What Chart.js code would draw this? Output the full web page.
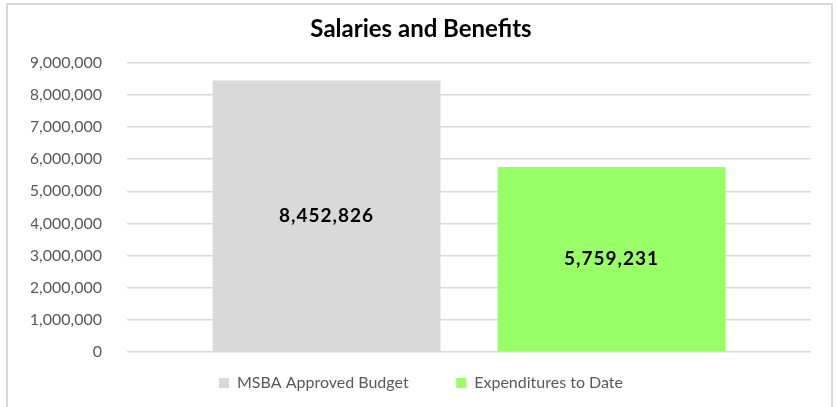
<!DOCTYPE html>
<html>
<head>
<meta charset="utf-8">
<script src="https://cdn.jsdelivr.net/npm/chart.js@4.4.1/dist/chart.umd.min.js"></script>
<style>
	html, body { margin: 0; padding: 0; background: #fff; }
	#wrap { position: relative; width: 837px; height: 407px; }
	#frame {
		position: absolute; left: 6px; top: 3px; width: 827px; height: 420px;
		border: 2px solid #d9d9d9; box-sizing: border-box; pointer-events: none;
	}
</style>
</head>
<body>
<div id="wrap">
	<canvas id="bar-chart" width="837" height="407"></canvas>
	<div id="frame"></div>
</div>
<script>
const categories = [""];
const seriesNames = ["MSBA Approved Budget", "Expenditures to Date"];
const budget = [8452826];
const expenditures = [5759231];
const yTicks = [0, 1000000, 2000000, 3000000, 4000000, 5000000, 6000000, 7000000, 8000000, 9000000];

const fmt = v => v.toLocaleString("en-US");

// value labels in the middle of each bar
const centerLabels = {
	id: "centerLabels",
	afterDatasetsDraw(chart) {
		const ctx = chart.ctx;
		ctx.save();
		ctx.font = "bold 19px Lato";
		ctx.letterSpacing = "1px";
		ctx.fillStyle = "#000";
		ctx.textAlign = "center";
		ctx.textBaseline = "middle";
		chart.data.datasets.forEach((ds, i) => {
			chart.getDatasetMeta(i).data.forEach((bar, j) => {
				const mid = (bar.y + bar.base) / 2;
				ctx.fillText(fmt(ds.data[j]), bar.x, mid);
			});
		});
		ctx.restore();
	}
};

const getChartElement = document.querySelector("#bar-chart");
var chart = new Chart(getChartElement, {
	type: "bar",
	data: {
		labels: categories,
		datasets: [
			{
				label: seriesNames[0],
				backgroundColor: "#d9d9d9",
				data: budget
			},
			{
				label: seriesNames[1],
				backgroundColor: "#99ff66",
				data: expenditures
			}
		]
	},
	options: {
		responsive: false,
		animation: false,
		categoryPercentage: 0.833,
		barPercentage: 0.8,
		layout: {
			padding: { top: 12, right: 26, bottom: 6, left: 31 }
		},
		plugins: {
			title: {
				display: true,
				text: "Salaries and Benefits",
				color: "#000",
				font: { family: "Lato", size: 24, weight: "bold" },
				padding: { top: 3, bottom: 19 }
			},
			legend: {
				position: "bottom",
				labels: {
					color: "#595959",
					font: { family: "Lato", size: 16 },
					boxWidth: 10,
					boxHeight: 10,
					padding: 23,
					// wider gap between the two entries
					generateLabels(chart) {
						const items = Chart.defaults.plugins.legend.labels.generateLabels(chart);
						items.forEach((it, i) => {
							if (i < items.length - 1) it.text += "      ";
						});
						return items;
					}
				}
			},
			tooltip: { enabled: false }
		},
		scales: {
			x: {
				display: false
			},
			y: {
				min: 0,
				max: 9000000,
				afterFit(scale) { scale.width = 96; },
				afterBuildTicks(scale) { scale.ticks = yTicks.map(v => ({ value: v })); },
				border: { display: false },
				grid: { color: "#d9d9d9", lineWidth: 1.5, drawTicks: false },
				ticks: {
					color: "#595959",
					font: { family: "Lato", size: 16 },
					padding: 25,
					callback: v => fmt(v)
				}
			}
		}
	},
	plugins: [centerLabels]
});
</script>
</body>
</html>
